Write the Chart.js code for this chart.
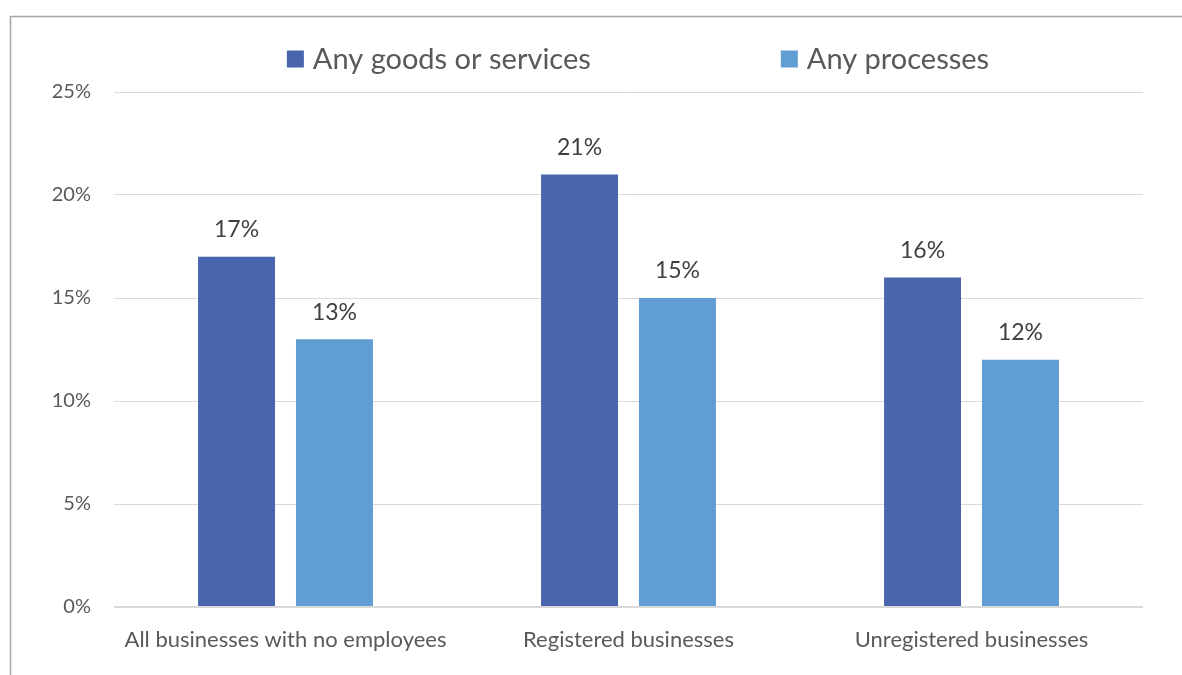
<!DOCTYPE html>
<html>
<head>
<meta charset="utf-8">
<script src="https://cdn.jsdelivr.net/npm/chart.js@4.4.0/dist/chart.umd.min.js"></script>
<style>
  html, body { margin: 0; padding: 0; background: #fff; }
  canvas { display: block; }
</style>
</head>
<body>
<canvas id="innovationChart" width="1182" height="675"></canvas>
<script>
// Share of businesses that introduced an innovation
const categories = ["All businesses with no employees", "Registered businesses", "Unregistered businesses"];
const goodsServices = [17, 21, 16];
const processes = [13, 15, 12];
const seriesNames = ["Any goods or services", "Any processes"];
const yTicks = [0, 5, 10, 15, 20, 25];

const FONT = "Lato, 'Open Sans', sans-serif";

// Outer frame around the chart
const framePlugin = {
    id: "frame",
    beforeDraw(chart) {
        const ctx = chart.ctx;
        ctx.save();
        ctx.fillStyle = "#fff";
        ctx.fillRect(0, 0, chart.width, chart.height);
        ctx.strokeStyle = "#a6a6a6";
        ctx.lineWidth = 1.5;
        ctx.strokeRect(10.5, 16.5, chart.width + 50, chart.height + 50);
        ctx.restore();
    }
};

// Legend drawn by hand so the spacing between items can be wide
const topLegendPlugin = {
    id: "topLegend",
    afterDraw(chart) {
        const ctx = chart.ctx;
        const box = 17, gapText = 9, gapItem = 190, cy = 59;
        ctx.save();
        ctx.font = "29px " + FONT;
        ctx.textBaseline = "middle";
        const items = chart.data.datasets.map(ds => ({
            text: ds.label,
            color: ds.backgroundColor,
            w: ctx.measureText(ds.label).width
        }));
        let total = 0;
        items.forEach((it, i) => { total += box + gapText + it.w + (i > 0 ? gapItem : 0); });
        let x = 638 - total / 2;
        items.forEach(it => {
            ctx.fillStyle = it.color;
            ctx.fillRect(x, cy - box / 2, box, box);
            ctx.fillStyle = "#595959";
            ctx.textAlign = "left";
            ctx.fillText(it.text, x + box + gapText, cy + 1);
            x += box + gapText + it.w + gapItem;
        });
        ctx.restore();
    }
};

// Value labels above each bar
const valueLabelPlugin = {
    id: "valueLabels",
    afterDatasetsDraw(chart) {
        const ctx = chart.ctx;
        ctx.save();
        ctx.font = "23px " + FONT;
        ctx.fillStyle = "#404040";
        ctx.textAlign = "center";
        ctx.textBaseline = "middle";
        chart.data.datasets.forEach((ds, di) => {
            chart.getDatasetMeta(di).data.forEach((bar, i) => {
                ctx.fillText(ds.data[i] + "%", bar.x, bar.y - 27);
            });
        });
        ctx.restore();
    }
};

new Chart(document.getElementById("innovationChart"), {
    type: "bar",
    data: {
        labels: categories,
        datasets: [
            {
                label: seriesNames[0],
                data: goodsServices,
                backgroundColor: "#4865ad",
                categoryPercentage: 0.571,
                barPercentage: 0.786
            },
            {
                label: seriesNames[1],
                data: processes,
                backgroundColor: "#609dd3",
                categoryPercentage: 0.571,
                barPercentage: 0.786
            }
        ]
    },
    options: {
        responsive: false,
        animation: false,
        layout: { padding: { top: 92, right: 39, left: 0, bottom: 0 } },
        plugins: {
            legend: { display: false },
            tooltip: { enabled: false }
        },
        scales: {
            x: {
                grid: { display: false },
                border: { display: false },
                ticks: {
                    font: { family: FONT, size: 22 },
                    color: "#595959",
                    padding: 12,
                    maxRotation: 0
                },
                afterFit(scale) { scale.height = 68; }
            },
            y: {
                min: yTicks[0],
                max: yTicks[yTicks.length - 1],
                afterBuildTicks(scale) { scale.ticks = yTicks.map(v => ({ value: v })); },
                grid: {
                    color: "#d9d9d9",
                    lineWidth: c => (c.tick && c.tick.value === 0 ? 2 : 1),
                    drawTicks: false
                },
                border: { display: false },
                ticks: {
                    font: { family: FONT, size: 20 },
                    color: "#595959",
                    padding: 23,
                    callback: v => v + "%"
                },
                afterFit(scale) { scale.width = 114; }
            }
        }
    },
    plugins: [framePlugin, topLegendPlugin, valueLabelPlugin]
});
</script>
</body>
</html>
